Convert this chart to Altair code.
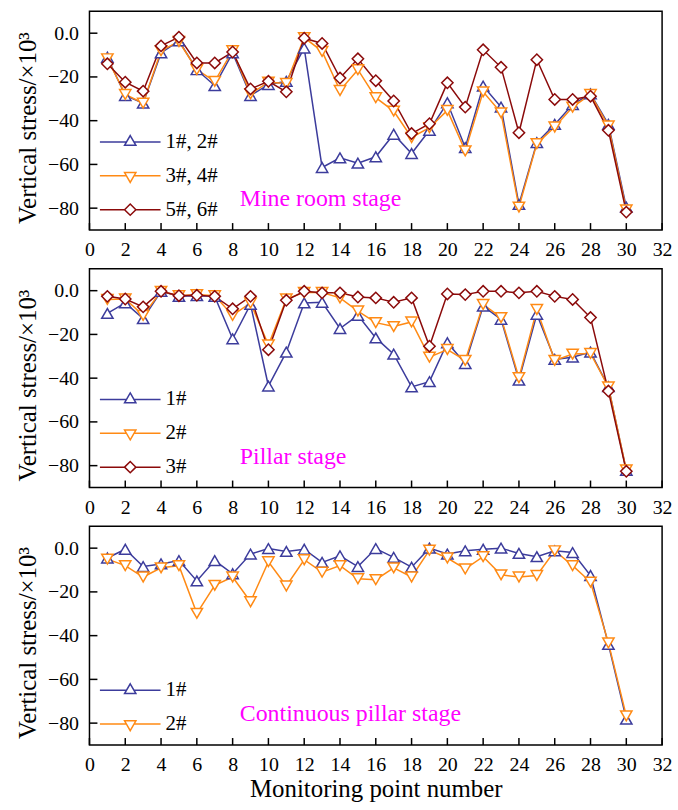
import altair as alt
import pandas as pd

# ---------------- data ----------------
points = list(range(1, 31))

mine_names = ["1#, 2#", "3#, 4#", "5#, 6#"]
mine_12 = [-11, -28.5, -32, -9, -3.5, -16.7, -24, -9, -28.5, -23.5, -22, -6.8, -61.4, -57, -59.4,
           -56.5, -46.2, -55, -44.4, -31.8, -52.3, -24.2, -33.8, -78.3, -50, -41.7, -32.6, -27.7, -41.7, -79.5]
mine_34 = [-11.7, -28, -32, -8, -3.8, -16.7, -22, -8, -27.7, -22.4, -23, -2, -8.3, -26.2, -16.7,
           -29.5, -35.6, -47.7, -43.2, -35.3, -53.8, -26.8, -36.4, -79.5, -50.5, -42.9, -33.8, -28, -42.4, -80.8]
mine_56 = [-14, -22.4, -26.5, -5.8, -1.8, -13.6, -13.6, -8.6, -25.5, -22, -26.8, -2.3, -4.7, -20.5, -11.7,
           -21.7, -31, -45.9, -41.4, -22.7, -33.8, -7.6, -15.6, -45.5, -12.1, -30.3, -30.3, -28.8, -44.4, -81.8]

pillar_names = ["1#", "2#", "3#"]
pillar_1 = [-10.4, -5.6, -12.8, -0.3, -2.6, -2.3, -2.6, -22, -6.3, -43.6, -28.1, -5.6, -5.3, -17.3, -11.3,
            -21.6, -29, -44, -41.6, -23.8, -33.3, -7.1, -13.1, -40.9, -10.8, -31.4, -30.4, -28.1, -43.9, -82.2]
pillar_2 = [-4, -3.8, -11.3, -0.3, -2.3, -1.8, -2.3, -11.3, -5.6, -24.8, -3.8, -0.8, -0.8, -3.3, -9.3,
            -14.6, -16.4, -14.3, -30.4, -26.9, -31.9, -6.3, -12.3, -39.8, -8.6, -31.9, -29, -28.7, -44, -82]
pillar_3 = [-2.6, -3.8, -7.4, -0.3, -2.3, -2.1, -2.6, -8.3, -2.6, -27, -4.4, -0.3, -1, -1, -2.9,
            -3.3, -5.3, -3.3, -25.4, -1.5, -1.8, -0.3, -0.3, -1, -0.3, -2.6, -4, -12.3, -45.9, -82.6]

cont_names = ["1#", "2#"]
cont_1 = [-4.5, -0.5, -8.4, -7.2, -5.7, -15, -5.7, -11.7, -2.7, -0.2, -1.5, -0.5, -6.5, -3.5, -8.4,
          -0.2, -4.2, -8.7, 0, -2.7, -1.2, -0.5, 0, -2.4, -3.9, -1.2, -2, -12.5, -44, -78.2]
cont_2 = [-5, -8, -13.2, -9, -8, -29.8, -17, -13.2, -24.5, -6.2, -17.3, -5.3, -11, -8, -14,
          -14.4, -9, -13.2, -0.9, -4.5, -9.5, -3.9, -12.2, -13.2, -12.5, -1.2, -8, -15.5, -43.3, -76.7]

stage_labels = ["Mine room stage", "Pillar stage", "Continuous pillar stage"]
y_ticks = [0, -20, -40, -60, -80]
x_ticks = list(range(0, 33, 2))

# ---------------- styles ----------------
COLORS = ["#3C3C9C", "#FF8A14", "#8B0A0A"]
SHAPES = ["triangle-up", "triangle-down", "diamond"]
LEGEND_SHAPES = [
    "M-5.35,0H-0.667M0.667,0H5.35M0,-1.1547L1,0.5774L-1,0.5774Z",
    "M-5.35,0H-0.667M0.667,0H5.35M0,1.1547L1,-0.5774L-1,-0.5774Z",
    "M-5.35,0H-1M1,0H5.35M-1,0L0,-1L1,0L0,1Z",
]
FONT = "Liberation Serif"
MSIZE = 130
W, H = 576, 220
YTITLE = "Vertical stress/×10³"
XTITLE = "Monitoring point number"


def panel(names, series, label, show_xtitle):
    rows = []
    for n, vals in zip(names, series):
        for x, v in zip(points, vals):
            rows.append({"x": x, "v": v, "s": n})
    df = pd.DataFrame(rows)

    xs = alt.Scale(domain=[0, 32], nice=False, zero=False)
    ys = alt.Scale(domain=[-90, 10], nice=False, zero=False)
    xaxis = alt.Axis(values=x_ticks, format="d", labelPadding=10, titlePadding=2,
                     labelOverlap=False, labelFlush=False)
    yaxis = alt.Axis(values=y_ticks, labelPadding=11, titlePadding=7, titleY=117,
                     labelOverlap=False, labelFlush=False,
                     labelExpr="datum.value == 0 ? '0.0' : datum.label")
    xt = XTITLE if show_xtitle else None

    def X(field):
        return alt.X(field, scale=xs, axis=xaxis, title=xt)

    def Y(field):
        return alt.Y(field, scale=ys, axis=yaxis, title=YTITLE)

    layers = []
    # inner ticks
    layers.append(alt.Chart(pd.DataFrame({"t": y_ticks})).mark_rule(color="black", strokeWidth=1.5)
                  .encode(y=Y("t:Q"), x=alt.value(0), x2=alt.value(8)))
    layers.append(alt.Chart(pd.DataFrame({"t": x_ticks})).mark_rule(color="black", strokeWidth=1.5)
                  .encode(x=X("t:Q"), y=alt.value(H), y2=alt.value(H - 7)))

    k = len(names)
    for i, n in enumerate(names):
        layers.append(alt.Chart(df).transform_filter(alt.datum.s == n)
                      .mark_line(color=COLORS[i], strokeWidth=1.5)
                      .encode(x=X("x:Q"), y=Y("v:Q")))
    for i, n in enumerate(names):
        layers.append(alt.Chart(df).transform_filter(alt.datum.s == n)
                      .mark_point(shape=SHAPES[i], size=MSIZE, fill="white", stroke=COLORS[i],
                                  strokeWidth=1.5, opacity=1)
                      .encode(x=X("x:Q"), y=Y("v:Q")))

    leg = alt.Legend(title=None, orient="none", legendX=30.5, legendY=121 + (3 - k) * 33.5,
                     labelFont=FONT, labelFontSize=21, labelColor="black",
                     symbolSize=MSIZE, symbolStrokeWidth=1.5, rowPadding=12,
                     labelOffset=25, padding=0)
    layers.append(alt.Chart(df).transform_filter("false")
                  .mark_point(filled=False, strokeWidth=1.5, size=MSIZE, opacity=1)
                  .encode(color=alt.Color("s:N", scale=alt.Scale(domain=names, range=COLORS[:k]), legend=leg),
                          shape=alt.Shape("s:N", scale=alt.Scale(domain=names, range=LEGEND_SHAPES[:k]), legend=leg)))

    layers.append(alt.Chart(pd.DataFrame({"label": [label]}))
                  .mark_text(font=FONT, fontSize=24, color="#FF00FF", align="left", baseline="middle")
                  .encode(x=alt.XDatum(8.4, scale=xs, axis=xaxis, title=xt),
                          y=alt.YDatum(-76, scale=ys, axis=yaxis, title=YTITLE),
                          text="label:N"))

    return alt.layer(*layers).properties(width=W, height=H)


p1 = panel(mine_names, [mine_12, mine_34, mine_56], stage_labels[0], False)
p2 = panel(pillar_names, [pillar_1, pillar_2, pillar_3], stage_labels[1], False)
p3 = panel(cont_names, [cont_1, cont_2], stage_labels[2], True)

chart = (alt.vconcat(p1, p2, p3, spacing=39, bounds="flush")
         .resolve_scale(color="independent", shape="independent")
         .properties(padding={"left": 14, "top": 8, "right": 5, "bottom": 5}, background="white")
         .configure_view(stroke="black", strokeWidth=1.5)
         .configure_axis(grid=False, domain=False, ticks=False, labelOverlap=False,
                         labelFont=FONT, labelFontSize=20, labelColor="black",
                         titleFont=FONT, titleFontSize=25, titleFontWeight="normal", titleColor="black"))

chart.save("out.html", embed_options={"renderer": "svg", "actions": False})
